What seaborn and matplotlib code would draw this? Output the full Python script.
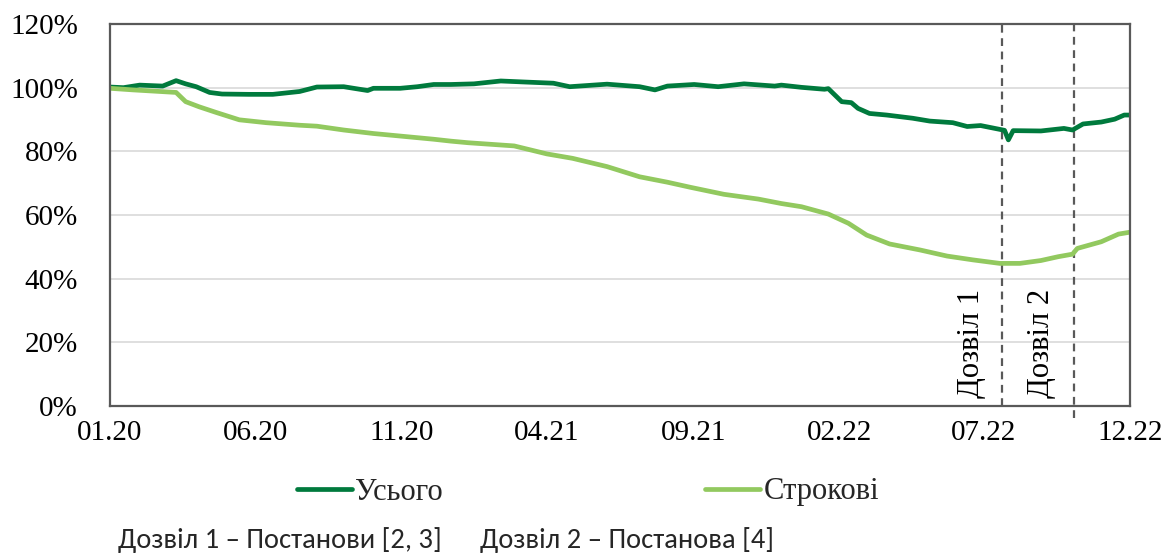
import numpy as np
import pandas as pd
import matplotlib
matplotlib.use("Agg")
import matplotlib.pyplot as plt
import matplotlib.dates as mdates
import seaborn as sns

# ---- data ----
total_dates = ["2020-01-01", "2020-01-15", "2020-02-01", "2020-02-25", "2020-03-10", "2020-03-20",
               "2020-03-31", "2020-04-14", "2020-04-27", "2020-05-25", "2020-06-19", "2020-07-17",
               "2020-08-04", "2020-09-01", "2020-09-26", "2020-10-02", "2020-10-30", "2020-11-17",
               "2020-12-04", "2020-12-22", "2021-01-15", "2021-02-12", "2021-03-07", "2021-04-08",
               "2021-04-25", "2021-06-03", "2021-07-07", "2021-07-23", "2021-08-05", "2021-09-02",
               "2021-09-27", "2021-10-24", "2021-11-25", "2021-12-02", "2021-12-23", "2022-01-16",
               "2022-01-20", "2022-02-03", "2022-02-13", "2022-02-20", "2022-03-04", "2022-03-22",
               "2022-04-18", "2022-05-06", "2022-05-30", "2022-06-14", "2022-06-28", "2022-07-18",
               "2022-07-23", "2022-07-27", "2022-08-01", "2022-08-30", "2022-09-23", "2022-10-02",
               "2022-10-13", "2022-11-01", "2022-11-15", "2022-11-25", "2022-12-01"]
total_values = [100.2, 100.0, 100.8, 100.5, 102.2, 101.2,
                100.3, 98.5, 98.0, 97.9, 97.9, 98.8,
                100.2, 100.3, 99.1, 99.8, 99.8, 100.3,
                101.0, 101.0, 101.2, 102.1, 101.8, 101.4,
                100.3, 101.1, 100.3, 99.3, 100.5, 101.0,
                100.3, 101.2, 100.5, 100.8, 100.1, 99.5,
                99.7, 95.6, 95.3, 93.5, 91.9, 91.4,
                90.4, 89.5, 89.0, 87.8, 88.1, 86.9,
                86.6, 83.6, 86.5, 86.4, 87.2, 86.7,
                88.6, 89.2, 90.1, 91.4, 91.4]

term_dates = ["2020-01-01", "2020-01-25", "2020-02-11", "2020-03-10", "2020-03-20", "2020-04-03",
              "2020-04-21", "2020-05-15", "2020-06-12", "2020-07-17", "2020-08-04", "2020-09-01",
              "2020-10-02", "2020-10-30", "2020-12-04", "2020-12-22", "2021-01-09", "2021-02-26",
              "2021-04-01", "2021-04-28", "2021-06-03", "2021-07-07", "2021-08-05", "2021-08-29",
              "2021-10-03", "2021-11-08", "2021-12-02", "2021-12-23", "2022-01-20", "2022-02-10",
              "2022-03-01", "2022-03-25", "2022-04-26", "2022-05-24", "2022-06-20", "2022-07-18",
              "2022-08-08", "2022-08-30", "2022-09-17", "2022-10-02", "2022-10-07", "2022-11-01",
              "2022-11-19", "2022-12-01"]
term_values = [99.8, 99.3, 99.0, 98.5, 95.6, 94.0,
               92.2, 89.9, 89.0, 88.2, 87.9, 86.7,
               85.6, 84.8, 83.8, 83.2, 82.7, 81.7,
               79.2, 77.8, 75.2, 72.0, 70.3, 68.7,
               66.5, 65.0, 63.6, 62.6, 60.3, 57.4,
               53.7, 50.9, 49.0, 47.1, 45.9, 44.8,
               44.8, 45.7, 46.9, 47.7, 49.5, 51.6,
               54.0, 54.6]

series_names = ["Усього", "Строкові"]
tick_dates = ["2020-01-01", "2020-06-01", "2020-11-01", "2021-04-01", "2021-09-01",
              "2022-02-01", "2022-07-01", "2022-12-01"]
tick_labels = ["01.20", "06.20", "11.20", "04.21", "09.21", "02.22", "07.22", "12.22"]
y_ticks = [0, 20, 40, 60, 80, 100, 120]
permit_dates = ["2022-07-20", "2022-10-04"]
permit_labels = ["Дозвіл 1", "Дозвіл 2"]
permit_label_dates = ["2022-06-19", "2022-08-31"]
footnotes = ["Дозвіл 1 – Постанови [2, 3]", "Дозвіл 2 – Постанова [4]"]

# ---- styling ----
sns.set_theme(style="white")
SERIF = ['Liberation Serif', 'DejaVu Serif']
SANS = ['Carlito', 'Lato', 'DejaVu Sans']
plt.rcParams['font.family'] = SERIF
SPINE = "#595959"
colors = ["#007A3D", "#92C95F"]

df_total = pd.DataFrame({"date": pd.to_datetime(total_dates), "value": total_values})
df_term = pd.DataFrame({"date": pd.to_datetime(term_dates), "value": term_values})

fig = plt.figure(figsize=(11.71, 5.53), dpi=100)
ax = fig.add_axes([110 / 1171, 1 - 406 / 553, (1130 - 110) / 1171, (406 - 24) / 553])

sns.lineplot(data=df_total, x="date", y="value", ax=ax, color=colors[0], lw=3.4,
             label=series_names[0], estimator=None)
sns.lineplot(data=df_term, x="date", y="value", ax=ax, color=colors[1], lw=3.4,
             label=series_names[1], estimator=None)

ax.set_xlim(pd.Timestamp("2020-01-01"), pd.Timestamp("2022-12-01"))
ax.set_ylim(0, 120)
ax.set_xlabel("")
ax.set_ylabel("")

ax.set_yticks(y_ticks)
ax.set_yticklabels([f"{v}%" for v in y_ticks], fontfamily=SERIF, fontsize=21, color="black")
ax.set_xticks(pd.to_datetime(tick_dates))
ax.set_xticklabels(tick_labels, fontfamily=SERIF, fontsize=21, color="black")

ax.yaxis.grid(True, color="#D9D9D9", lw=1.2)
ax.xaxis.grid(False)
ax.set_axisbelow(True)
for s in ax.spines.values():
    s.set_color(SPINE)
    s.set_linewidth(1.6)
    s.set_visible(True)

ax.tick_params(axis="y", direction="in", length=6, width=1.4, color=SPINE, pad=23)
ax.tick_params(axis="x", direction="in", length=6, width=1.4, color=SPINE, pad=10)

# permit lines
ax.plot([pd.Timestamp(permit_dates[0])] * 2, [0, 120], ls=(0, (3.5, 2.5)), color=SPINE,
        lw=1.6, clip_on=False, zorder=1)
ax.plot([pd.Timestamp(permit_dates[1])] * 2, [-3.8, 120], ls=(0, (3.5, 2.5)), color=SPINE,
        lw=1.6, clip_on=False, zorder=1)
for lbl, d in zip(permit_labels, permit_label_dates):
    ax.text(pd.Timestamp(d), 2.5, lbl, rotation=90, ha="center", va="bottom",
            fontsize=22, color="black", fontfamily=SERIF)

# legend
ax.get_legend().remove()
handles, labels = ax.get_legend_handles_labels()
fig.legend(handles, labels, loc="center", bbox_to_anchor=(0.502, 1 - 492 / 553), ncol=2,
           frameon=False, handlelength=1.8, handletextpad=0.1,
           columnspacing=8.6, borderaxespad=0, prop={"family": SERIF, "size": 22})

# footnotes
fig.text(118 / 1171, 1 - 540 / 553, footnotes[0], fontsize=20.5, family=SANS,
         ha="left", va="center")
fig.text(480 / 1171, 1 - 540 / 553, footnotes[1], fontsize=20.5, family=SANS,
         ha="left", va="center")

fig.savefig("out.png", dpi=100)
